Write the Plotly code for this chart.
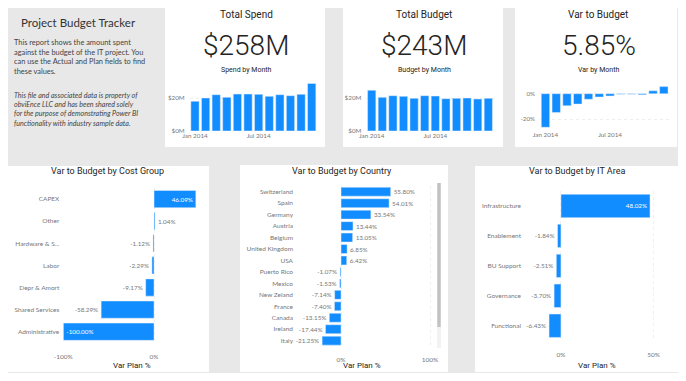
import plotly.graph_objects as go

# page body has an 8px margin, so the figure is drawn 16px smaller and all
# positions below are given in page pixels, then shifted.
PAGE_W, PAGE_H = 686, 381
OFF = 8
W, H = PAGE_W - 2 * OFF, PAGE_H - 2 * OFF
BLUE = "#118DFF"
BG = "#e8e8e8"
TXT = "#252423"
GRAY = "#777777"

months = ["Jan 2014", "Feb 2014", "Mar 2014", "Apr 2014", "May 2014", "Jun 2014",
          "Jul 2014", "Aug 2014", "Sep 2014", "Oct 2014", "Nov 2014", "Dec 2014"]
spend_m = [18.0, 20.0, 22.0, 20.4, 22.4, 22.4, 22.2, 21.0, 22.0, 21.4, 22.2, 28.8]
budget_m = [24.7, 20.4, 21.4, 21.0, 19.8, 21.4, 21.2, 19.6, 19.8, 20.0, 19.4, 19.8]
var_m = [-26.5, -14.9, -9.5, -8.2, -4.4, -2.6, -1.8, -0.5, -0.5, -0.9, 2.3, 5.6]

kpi_spend = "$258M"
kpi_budget = "$243M"
kpi_var = "5.85%"

cost_groups = ["CAPEX", "Other", "Hardware & S...", "Labor", "Depr & Amort",
               "Shared Services", "Administrative"]
cost_vals = [46.09, 1.04, -1.12, -2.29, -9.17, -58.29, -100.00]

countries = ["Switzerland", "Spain", "Germany", "Austria", "Belgium", "United Kingdom",
             "USA", "Puerto Rico", "Mexico", "New Zeland", "France", "Canada",
             "Ireland", "Italy"]
country_vals = [55.80, 54.01, 33.54, 13.44, 13.05, 6.85, 6.42, -1.07, -1.53,
                -7.14, -7.40, -13.15, -17.44, -21.25]

it_areas = ["Infrastructure", "Enablement", "BU Support", "Governance", "Functional"]
it_vals = [48.02, -1.84, -2.51, -3.70, -6.43]


def px(x):
    return (x - OFF) / W


def py(y):
    return 1 - (y - OFF) / H


fig = go.Figure()
shapes = []
annotations = []

# cards
cards = [(165, 0, 325, 147), (343, 0, 503, 147), (515, 0, 677, 147),
         (4, 166, 209, 372), (240, 165, 448, 372), (475, 166, 682, 372)]
for x0, y0, x1, y1 in cards:
    shapes.append(dict(type="rect", xref="paper", yref="paper", x0=px(x0), x1=px(x1),
                       y0=py(y1), y1=py(y0), fillcolor="white", line=dict(width=0),
                       layer="below"))

# scrollbar on country card
shapes.append(dict(type="rect", xref="paper", yref="paper", x0=px(437), x1=px(441),
                   y0=py(348), y1=py(183), fillcolor="#f2f2f2", line=dict(width=0),
                   layer="below"))
shapes.append(dict(type="rect", xref="paper", yref="paper", x0=px(437.3), x1=px(440.7),
                   y0=py(327), y1=py(183), fillcolor="#c2c2c2", line=dict(width=0)))

SEG = "Segoe UI, Lato, Open Sans, sans-serif"
DIN = "Roboto, sans-serif"


def ann(text, x, y, size, color=TXT, family=DIN, xanchor="center", align="center",
        weight="normal"):
    annotations.append(dict(text=text, x=px(x), y=py(y), xref="paper", yref="paper",
                            showarrow=False, xanchor=xanchor, yanchor="middle",
                            align=align,
                            font=dict(size=size, color=color, family=family,
                                      weight=weight)))


# left text panel
ann("Project Budget Tracker", 78.5, 23, 11.5, "#333333", SEG)
ann("This report shows the amount spent<br>against the budget of the IT project. You<br>"
    "can use the Actual and Plan fields to find<br>these values.", 12, 57.3, 7.4, "#444444",
    SEG, xanchor="left", align="left")
ann("<i>This file and associated data is property of<br>obviEnce LLC and has been shared solely<br>"
    "for the purpose of demonstrating Power BI<br>functionality with industry sample data.</i>",
    12, 109.5, 7.1, "#444444", SEG, xanchor="left", align="left")

# KPI cards
ann("Total Spend", 246, 14, 10)
ann("Total Budget", 424, 14, 10)
ann("Var to Budget", 598, 14, 10)
ann(kpi_spend, 246, 45, 28, weight=300)
ann(kpi_budget, 423.5, 45, 28, weight=300)
ann(kpi_var, 599, 45, 28, weight=300)
ann("Spend by Month", 246, 70, 7)
ann("Budget by Month", 424, 70, 7)
ann("Var by Month", 598, 70, 7)

# bottom titles
ann("Var to Budget by Cost Group", 107, 171, 9)
ann("Var to Budget by Country", 342, 171, 9)
ann("Var to Budget by IT Area", 577, 171, 9)
ann("Var Plan %", 132, 365, 8)
ann("Var Plan %", 362, 365, 8)
ann("Var Plan %", 597, 365, 8)

small_font = dict(size=6.3, color=GRAY, family=SEG)
layout_axes = {}


def mini(idx, vals, xd, yd, yrange, tickvals, ticktext):
    fig.add_trace(go.Bar(x=months, y=vals, marker_color=BLUE, xaxis=f"x{idx}",
                         yaxis=f"y{idx}", hoverinfo="skip"))
    layout_axes[f"xaxis{idx}"] = dict(domain=[px(xd[0]), px(xd[1])], anchor=f"y{idx}",
                                      type="category", categoryarray=months,
                                      tickvals=[months[0], months[6]],
                                      ticktext=["Jan 2014", "Jul 2014"],
                                      showgrid=False, showline=False, zeroline=False,
                                      tickfont=small_font, ticks="", automargin=False)
    layout_axes[f"yaxis{idx}"] = dict(domain=[py(yd[1]), py(yd[0])], anchor=f"x{idx}",
                                      range=yrange, tickvals=tickvals, ticktext=ticktext,
                                      showgrid=True, gridcolor="#eeeeee", griddash="dot",
                                      zeroline=False, showline=False, tickfont=small_font,
                                      ticklabelstandoff=4, automargin=False)


mini(1, spend_m, (189.7, 317), (81.5, 131), [0, 30], [0, 20], ["$0M", "$20M"])
mini(2, budget_m, (366.4, 493.6), (81.5, 131), [0, 30], [0, 20], ["$0M", "$20M"])
mini(3, var_m, (540.1, 669.2), (84.2, 129.2), [-28, 7.5], [-20, 0], ["-20%", "0%"])


def hbar(idx, cats, vals, xd, yd, xrange, tickvals, ticktext, inside, standoff):
    pos = ["inside" if i else "outside" for i in inside]
    cols = ["white" if i else GRAY for i in inside]
    fig.add_trace(go.Bar(y=cats, x=vals, orientation="h", marker_color=BLUE,
                         xaxis=f"x{idx}", yaxis=f"y{idx}", hoverinfo="skip",
                         texttemplate="%{x:.2f}%", textposition=pos,
                         textfont=dict(size=6.3, color=cols, family=SEG),
                         insidetextanchor="end", constraintext="none", cliponaxis=False))
    layout_axes[f"xaxis{idx}"] = dict(domain=[px(xd[0]), px(xd[1])], anchor=f"y{idx}",
                                      range=xrange, tickvals=tickvals, ticktext=ticktext,
                                      showgrid=True, gridcolor="#f0f0f0", griddash="dot",
                                      zeroline=False, showline=False,
                                      tickfont=dict(size=6.5, color=GRAY, family=SEG),
                                      ticks="outside", ticklen=7,
                                      tickcolor="rgba(0,0,0,0)", automargin=False)
    layout_axes[f"yaxis{idx}"] = dict(domain=[py(yd[1]), py(yd[0])], anchor=f"x{idx}",
                                      type="category", categoryarray=cats,
                                      autorange="reversed", showgrid=False,
                                      zeroline=False, showline=False,
                                      tickfont=dict(size=6.5, color=GRAY, family=SEG),
                                      ticklabelstandoff=standoff, automargin=False)


hbar(4, cost_groups, cost_vals, (63.3, 201.2), (188, 342.8), [-100, 52], [-100, 0],
     ["-100%", "0%"], [1, 0, 0, 0, 0, 0, 1], 3)
hbar(5, countries, country_vals, (295, 432), (186, 346.4), [-51.7, 102.2], [0, 100],
     ["0%", "100%"], [0] * 14, 1)
hbar(6, it_areas, it_vals, (535, 660), (191, 340.7), [-14.0, 53.4], [0, 50],
     ["0%", "50%"], [1, 0, 0, 0, 0], 13)

fig.update_layout(width=W, height=H, margin=dict(l=0, r=0, t=0, b=0, autoexpand=False),
                  paper_bgcolor=BG, plot_bgcolor="rgba(0,0,0,0)", showlegend=False,
                  bargap=0.22, shapes=shapes, annotations=annotations,
                  font=dict(family=SEG), **layout_axes)
fig.write_html("out.html")
